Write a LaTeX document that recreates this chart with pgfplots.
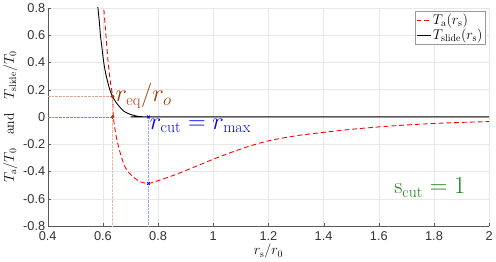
\documentclass[border=0pt]{standalone}
\usepackage{pgfplots}
\pgfplotsset{compat=1.18}
\usepackage{fontspec}
\newfontfamily\tickfont{Liberation Sans}
\definecolor{brn}{RGB}{160,60,10}
\definecolor{grn}{RGB}{20,130,20}
\begin{document}
\begin{tikzpicture}
\begin{axis}[
  scale only axis, width=449pt, height=222pt,
  xmin=0.4, xmax=2, ymin=-0.8, ymax=0.8,
  xtick={0.4,0.6,...,2.01}, ytick={-0.8,-0.6,...,0.81},
  xticklabels={0.4,0.6,0.8,1,1.2,1.4,1.6,1.8,2},
  yticklabels={-0.8,-0.6,-0.4,-0.2,0,0.2,0.4,0.6,0.8},
  ticklabel style={font=\tickfont\fontsize{13}{14}\selectfont, text=black!80},
  yticklabel style={xshift=1pt},
  xticklabel style={yshift=-2pt},
  grid=major, major grid style={gray!18, line width=0.4pt},
  axis lines=left, axis line style={-, black!65},
  tick align=inside, major tick length=3pt, tick style={black!65},
  clip=true,
  xlabel={$r_\mathrm{s}/r_0$},
  ylabel={$T_\mathrm{a}/T_0$\quad and\quad $T_\mathrm{slide}/T_0$},
  label style={font=\fontsize{14}{16}\selectfont},
  xlabel style={yshift=3pt},
  ylabel style={yshift=-1pt},
  legend style={draw=black!40, font=\fontsize{14.5}{16}\selectfont, inner sep=1pt, row sep=-1pt, legend cell align=left, at={(0.992,0.986)}, anchor=north east},
  legend image code/.code={\draw[#1] (0cm,0cm) -- (0.5cm,0cm);},
]
\addplot[red, line width=0.9pt, dash pattern=on 5pt off 3pt, smooth, tension=0.4] coordinates {
(0.598,0.9)(0.603,0.8)(0.611,0.6)(0.619,0.4)(0.627,0.26)(0.635,0.15)(0.638,0.0)(0.646,-0.12)(0.657,-0.22)(0.668,-0.3)(0.68,-0.366)(0.695,-0.41)(0.71,-0.44)(0.734,-0.474)(0.764,-0.488)(0.805,-0.464)(0.876,-0.413)(0.948,-0.353)(1.0,-0.31)(1.065,-0.26)(1.13,-0.215)(1.2,-0.175)(1.3,-0.138)(1.4,-0.113)(1.5,-0.091)(1.6,-0.073)(1.7,-0.059)(1.8,-0.048)(1.9,-0.04)(2.0,-0.034)};
\addlegendentry{$T_\mathrm{a}(r_\mathrm{s})$}
\addplot[black, line width=0.9pt, smooth, tension=0.4] coordinates {
(0.579,0.9)(0.582,0.8)(0.587,0.7)(0.591,0.6)(0.597,0.5)(0.603,0.4)(0.612,0.3)(0.625,0.2)(0.635,0.15)(0.65,0.1)(0.674,0.045)(0.7,0.018)(0.725,0.005)(0.75,0.0005)(0.765,0)(2,0)};
\addlegendentry{$T_\mathrm{slide}(r_\mathrm{s})$}
\addplot[brn!45, densely dotted, line width=0.4pt, forget plot] coordinates {(0.4,0.15)(0.635,0.15)};
\addplot[brn!35, densely dotted, line width=0.4pt, forget plot] coordinates {(0.635,0.15)(0.635,-0.8)};
\addplot[blue!50, densely dotted, line width=0.4pt, forget plot] coordinates {(0.4,0)(0.635,0)};
\addplot[blue!35, densely dotted, line width=0.4pt, forget plot] coordinates {(0.765,0)(0.765,-0.8)};
\addplot[only marks, mark=*, mark size=1.7pt, brn, forget plot] coordinates {(0.635,0.15)(0.635,0)};
\addplot[only marks, mark=x, mark size=2pt, blue, line width=0.8pt, forget plot] coordinates {(0.765,0)(0.765,-0.488)};
\node[anchor=west, text=brn, font=\fontsize{23}{25}\selectfont, inner sep=1pt] at (axis cs:0.642,0.155) {$r_\mathrm{eq}/r_o$};
\node[anchor=north west, text=blue, font=\fontsize{23}{25}\selectfont, inner sep=1pt] at (axis cs:0.766,-0.005) {$r_\mathrm{cut}=r_\mathrm{max}$};
\node[anchor=center, text=grn, font=\fontsize{23}{25}\selectfont] at (axis cs:1.785,-0.52) {$\mathrm{s}_\mathrm{cut}=1$};
\end{axis}
\end{tikzpicture}
\end{document}
